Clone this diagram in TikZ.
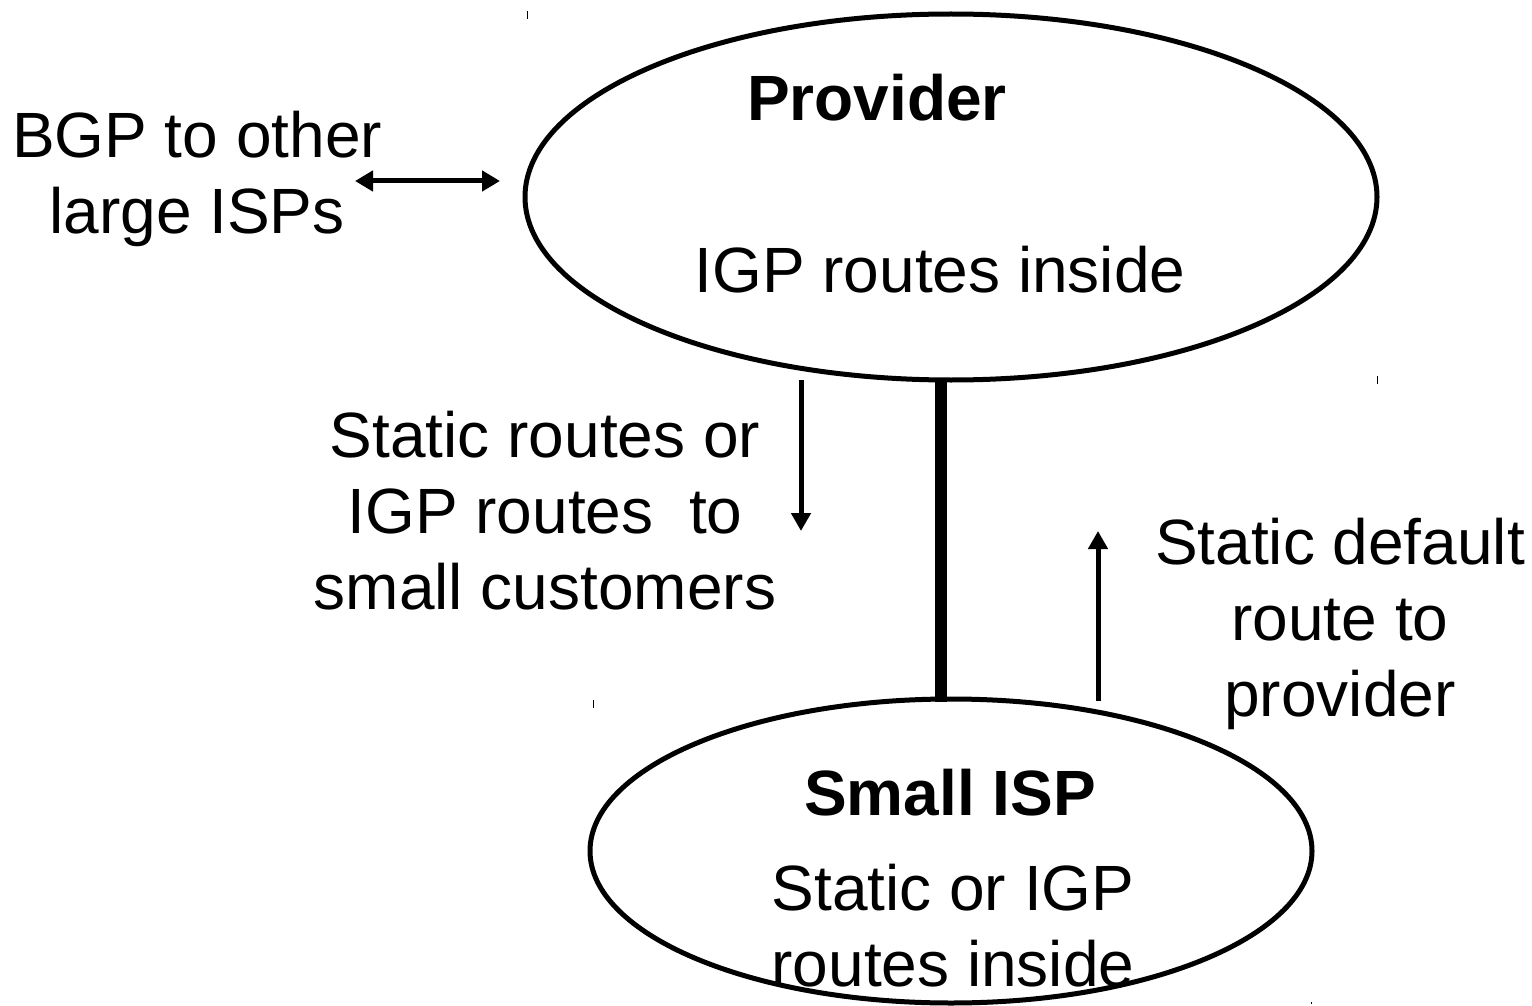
\documentclass[tikz,border=0pt]{standalone}
\usepackage{fontspec}
\setmainfont{Liberation Sans}
\usetikzlibrary{arrows.meta,shapes.geometric}
\begin{document}
\begin{tikzpicture}[x=0.5pt,y=-0.5pt,
  label text/.style={align=center,inner sep=0pt,
    font=\fontsize{32}{38}\selectfont},
  title text/.style={label text,font=\fontsize{32}{38}\selectfont\bfseries},
  cloud/.style={draw,ellipse,line width=2.5pt,inner sep=0pt},
  flow/.style={line width=2.5pt,-{Triangle[length=9pt,width=9.5pt]}},
  tick/.style={line width=0.5pt}]
\useasboundingbox (0,0) rectangle (1532,1006);

% the two routing domains (sizes in pt, half the pixel span)
\node[cloud,minimum width=426pt,minimum height=183pt] (prov) at (951,197) {};
\node[cloud,minimum width=361pt,minimum height=152pt] (isp) at (951,851) {};

\node[title text] (provt) at (877,98) {Provider};
\node[label text] (provin) at (940,270) {IGP routes inside};
\node[title text] (ispt) at (950,793) {Small ISP};
\node[label text] (ispin) at (953,926) {Static or IGP\\routes inside};

% link between provider and small ISP
\coordinate (linktop) at (941,380);
\coordinate (linkbot) at (941,702);
\draw[line width=6pt] (linktop) -- (linkbot);

% peering with other large ISPs
\node[label text] (bgp) at (197,179) {BGP to other\\large ISPs};
\coordinate (bgpl) at (355,181);
\coordinate (bgpr) at (500,181);
\draw[line width=2.5pt,{Triangle[length=9pt,width=10pt]}-{Triangle[length=9pt,width=10pt]}] (bgpl) -- (bgpr);

% routes pushed down to customers
\node[label text] (down) at (545,511) {Static routes or\\IGP routes\ \ to\\small customers};
\coordinate (downs) at (801,380);
\coordinate (downe) at (801,531);
\draw[flow] (downs) -- (downe);

% default route up to the provider
\node[label text] (up) at (1340,624) {Static default\\route to\\provider};
\coordinate (ups) at (1098,701);
\coordinate (upe) at (1098,531);
\draw[flow] (ups) -- (upe);

% small handle marks
\draw[tick] (527,11) -- (527,19);
\draw[tick] (1377,376) -- (1377,384);
\draw[tick] (593,700) -- (593,708);
\draw[tick] (1311,1002) -- (1311,1004);
\end{tikzpicture}
\end{document}
